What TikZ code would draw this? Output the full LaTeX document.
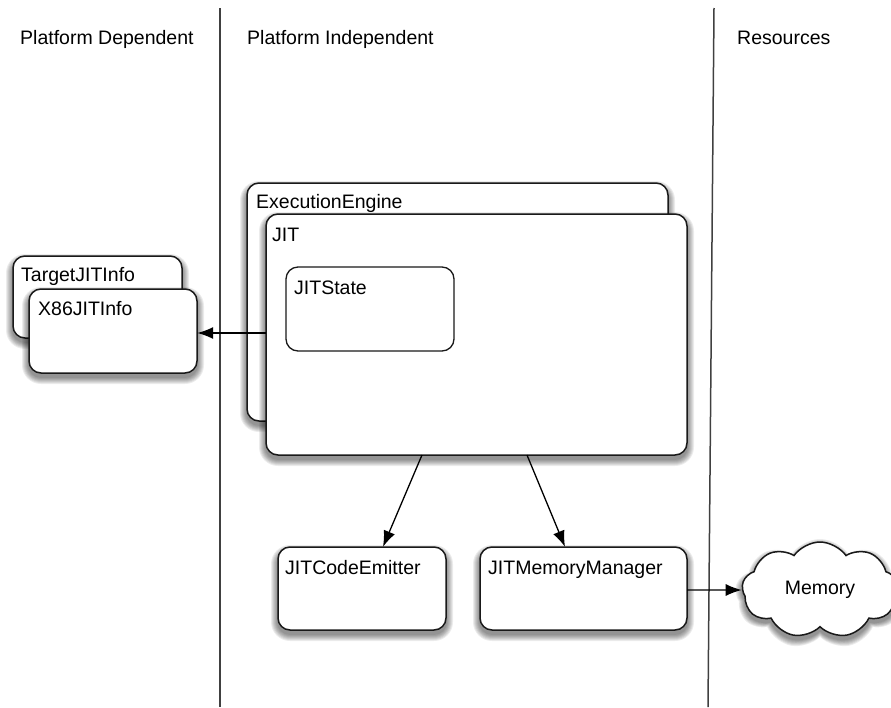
\documentclass[tikz,border=0pt]{standalone}
\usepackage{fontspec}
\setmainfont{Liberation Sans}
\usetikzlibrary{arrows.meta,shapes.symbols}

\tikzset{
  px/.style={x=1pt,y=-1pt},
  box/.style={draw=black!90, line width=1.5pt, fill=white, rounded corners=12pt},
  innerbox/.style={draw=black!90, line width=1.3pt, fill=white, rounded corners=12pt},
  shadowlayer/.style={fill=black, opacity=0.075, draw=none},
  cloudshape/.style={cloud, cloud puffs=9, cloud puff arc=110, aspect=1.7},
  lbl/.style={anchor=base west, inner sep=0pt, font=\fontsize{19.5}{22}\selectfont},
  head/.style={anchor=base west, inner sep=0pt, font=\fontsize{19.5}{22}\selectfont},
  divider/.style={draw=black!75, line width=1.5pt},
  conn/.style={draw=black, line width=1.3pt, -{Latex[length=16pt,width=12pt]}},
}

% soft drop shadow below a rounded box given by its corners (y grows downwards)
\newcommand\boxshadow[4]{%
  \foreach \r [evaluate=\r as \rc using 12+\r] in {1,...,7}
    \path[shadowlayer, rounded corners=\rc pt]
      (#1-\r, #2+5-\r) rectangle (#3+\r, #4+4+\r);%
}

\begin{document}
\begin{tikzpicture}[px]
  \useasboundingbox (0,0) rectangle (891,707);
  \clip (0,0) rectangle (891,707);

  % column dividers
  \coordinate (d1top) at (220,8);
  \coordinate (d1bot) at (220,707);
  \coordinate (d2top) at (714,8);
  \coordinate (d2bot) at (708,707);
  \draw[divider] (d1top) -- (d1bot);
  \draw[divider] (d2top) -- (d2bot);

  % column headings
  \node[head] (hdep) at (20,44) {Platform Dependent};
  \node[head] (hind) at (247,44) {Platform Independent};
  \node[head] (hres) at (737,44) {Resources};

  % platform dependent side
  \boxshadow{13}{256}{182}{338}
  \path[box] (13,256) rectangle (182,338);
  \node[lbl] (tjil) at (21,281) {TargetJITInfo};
  \boxshadow{29}{289}{197}{373}
  \path[box] (29,289) rectangle (197,373);
  \node[inner sep=0pt, minimum width=168pt, minimum height=84pt] (x86) at (113,331) {};
  \node[lbl] (x86l) at (38,315) {X86JITInfo};

  % execution engine and JIT
  \boxshadow{247}{183}{668}{421}
  \path[box] (247,183) rectangle (668,421);
  \node[lbl] (eel) at (256,208) {ExecutionEngine};
  \boxshadow{266}{214}{687}{455}
  \path[box] (266,214) rectangle (687,455);
  \node[inner sep=0pt, minimum width=421pt, minimum height=241pt] (jit) at (476.5,334.5) {};
  \node[lbl] (jitl) at (272,241) {JIT};
  \path[innerbox] (286,267) rectangle (454,351);
  \node[lbl] (jsl) at (294,294) {JITState};

  % emitter and memory manager
  \boxshadow{278}{547}{446}{630}
  \path[box] (278,547) rectangle (446,630);
  \node[inner sep=0pt, minimum width=168pt, minimum height=83pt] (jce) at (362,588.5) {};
  \node[lbl] (jcel) at (285,574) {JITCodeEmitter};
  \boxshadow{480}{547}{687}{630}
  \path[box] (480,547) rectangle (687,630);
  \node[inner sep=0pt, minimum width=207pt, minimum height=83pt] (jmm) at (583.5,588.5) {};
  \node[lbl] (jmml) at (488,574) {JITMemoryManager};

  % memory resource with its shadow
  \foreach \r [evaluate=\r as \w using 156+2*\r, evaluate=\r as \h using 96+2*\r] in {1,...,7}
    \node[cloudshape, shadowlayer, minimum width=\w pt, minimum height=\h pt] (ms\r) at (820,594) {};
  \node[cloudshape, draw=black!90, line width=1.5pt, fill=white,
        minimum width=156pt, minimum height=96pt,
        font=\fontsize{19.5}{22}\selectfont] (mem) at (820,590) {Memory};

  % connectors
  \draw[conn] (jit.west |- 0,333) -- (x86.east |- 0,333);
  \draw[conn] (422,455) -- (jce.north -| 383,0);
  \draw[conn] (527,455) -- (jmm.north -| 565,0);
  \draw[conn] (jmm.east |- 0,590) -- (mem.west);
\end{tikzpicture}
\end{document}
